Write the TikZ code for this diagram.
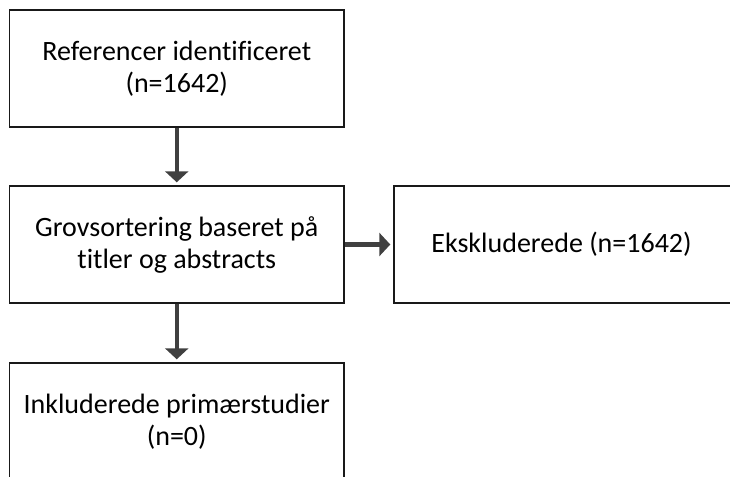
\documentclass[tikz,border=0pt]{standalone}
\usepackage{fontspec}
\setmainfont{Carlito}[Ligatures=NoCommon]
\usetikzlibrary{arrows.meta}
\begin{document}
\begin{tikzpicture}[x=1pt,y=-1pt,
  box/.style={draw=black!90, line width=1.4pt, minimum width=334.5pt, minimum height=117pt,
    inner sep=0pt, align=center, font=\fontsize{28}{32}\selectfont, text=black},
  conn/.style={draw=black!75, line width=4.5pt, -{Triangle[width=23pt,length=11pt]}, shorten >=3pt}]
\useasboundingbox (0,0) rectangle (730,476);
\node[box] (ref) at (176.75,68.5) {Referencer identificeret\\(n=1642)};
\node[box] (grov) at (176.75,244.5) {Grovsortering baseret på\\titler og abstracts};
\node[box, minimum width=340pt] (eks) at (564,244.5) {};
\node at (561.5,244.5) [font=\fontsize{28}{32}\selectfont] (ekst) {Ekskluderede (n=1642)};
\node[box] (inkl) at (176.75,421.5) {Inkluderede primærstudier\\(n=0)};
\draw[conn] (ref) -- (grov);
\draw[conn] (grov) -- (eks);
\draw[conn] (grov) -- (inkl);
\end{tikzpicture}
\end{document}
